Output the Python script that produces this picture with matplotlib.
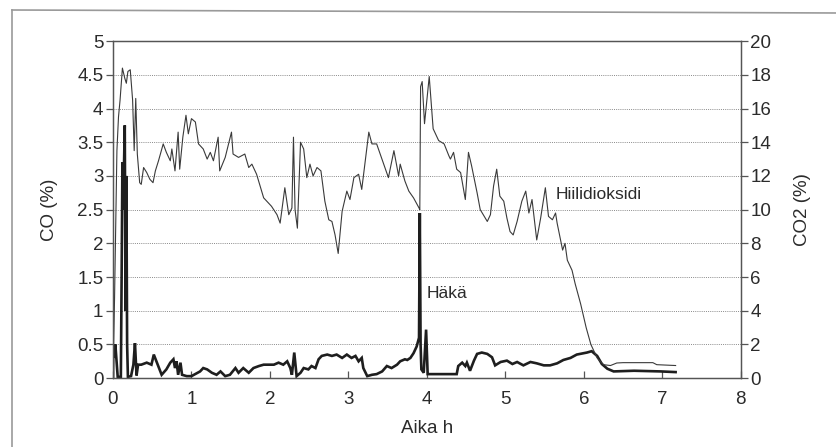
import matplotlib.pyplot as plt
from matplotlib.lines import Line2D

plt.rcParams['font.family'] = ['Liberation Sans', 'DejaVu Sans']

# CO2 (right axis), thin line
co2_t = [0.00, 0.02, 0.05, 0.07, 0.09, 0.12, 0.15, 0.17, 0.19, 0.22, 0.25, 0.27, 0.29, 0.31,
         0.34, 0.36, 0.39, 0.43, 0.47, 0.51, 0.54, 0.58, 0.64, 0.68, 0.73, 0.75, 0.79, 0.83,
         0.85, 0.89, 0.93, 0.96, 1.00, 1.05, 1.09, 1.15, 1.20, 1.24, 1.28, 1.34, 1.36, 1.43,
         1.51, 1.53, 1.60, 1.68, 1.73, 1.77, 1.83, 1.92, 1.96, 2.02, 2.09, 2.13, 2.19, 2.24,
         2.28, 2.30, 2.32, 2.35, 2.39, 2.43, 2.47, 2.51, 2.55, 2.60, 2.65, 2.70, 2.75, 2.79,
         2.83, 2.87, 2.92, 2.98, 3.02, 3.07, 3.13, 3.17, 3.26, 3.30, 3.36, 3.45, 3.51, 3.58,
         3.64, 3.66, 3.72, 3.77, 3.83, 3.90, 3.91, 3.92, 3.94, 3.97, 4.00, 4.03, 4.08, 4.15,
         4.22, 4.28, 4.30, 4.34, 4.38, 4.43, 4.49, 4.53, 4.57, 4.64, 4.68, 4.77, 4.81, 4.85,
         4.89, 4.93, 4.98, 5.02, 5.06, 5.10, 5.15, 5.21, 5.26, 5.30, 5.34, 5.40, 5.45, 5.51,
         5.55, 5.60, 5.64, 5.66, 5.73, 5.76, 5.79, 5.85, 5.89, 5.96, 6.03, 6.09, 6.17, 6.25,
         6.34, 6.42, 6.50, 6.88, 6.93, 7.17]
co2_v = [0.0, 4.8, 13.5, 15.5, 16.5, 18.4, 17.8, 17.5, 18.2, 18.3, 16.5, 13.5, 16.6, 13.3,
         11.6, 11.5, 12.5, 12.2, 11.8, 11.6, 12.3, 12.9, 13.9, 13.4, 12.9, 13.6, 12.3, 14.6,
         12.4, 14.3, 15.6, 14.5, 15.4, 15.2, 13.9, 13.6, 13.0, 13.4, 12.9, 14.3, 12.3, 13.1,
         14.6, 13.3, 13.1, 13.3, 12.5, 12.7, 12.1, 10.7, 10.5, 10.2, 9.7, 9.2, 11.3, 9.7,
         10.1, 14.3, 10.0, 8.9, 14.0, 13.6, 11.9, 12.7, 12.0, 12.5, 12.3, 10.5, 9.4, 9.3,
         8.5, 7.4, 9.9, 11.1, 10.6, 11.9, 12.1, 11.2, 14.6, 13.9, 13.9, 12.7, 11.9, 13.5,
         12.0, 12.7, 11.7, 11.1, 10.7, 10.1, 10.0, 17.3, 17.6, 15.1, 16.5, 17.9, 14.8, 14.1,
         13.9, 13.2, 13.0, 13.4, 12.4, 12.2, 10.6, 13.4, 12.6, 11.0, 10.0, 9.3, 9.7, 11.4,
         12.4, 10.8, 10.5, 9.5, 8.7, 8.5, 9.3, 10.5, 11.1, 9.8, 10.6, 8.2, 9.5, 11.3,
         9.6, 9.4, 9.8, 9.2, 7.6, 8.0, 7.0, 6.4, 5.6, 4.4, 3.0, 2.0, 1.2, 0.8,
         0.75, 0.9, 0.92, 0.92, 0.8, 0.75]

# CO (left axis), thick line
co_t = [0.00, 0.005, 0.02, 0.03, 0.045, 0.06, 0.10, 0.11, 0.12, 0.13, 0.15, 0.16, 0.17, 0.18,
        0.19, 0.23, 0.26, 0.28, 0.30, 0.32, 0.36, 0.43, 0.49, 0.52, 0.56, 0.62, 0.68, 0.73,
        0.77, 0.79, 0.81, 0.83, 0.86, 0.88, 0.94, 1.00, 1.11, 1.15, 1.20, 1.26, 1.32, 1.37,
        1.43, 1.49, 1.56, 1.60, 1.66, 1.73, 1.79, 1.86, 1.92, 1.98, 2.05, 2.11, 2.17, 2.22,
        2.26, 2.28, 2.31, 2.34, 2.39, 2.43, 2.49, 2.53, 2.58, 2.62, 2.66, 2.73, 2.79, 2.85,
        2.92, 2.98, 3.04, 3.09, 3.13, 3.17, 3.19, 3.24, 3.30, 3.36, 3.43, 3.49, 3.55, 3.62,
        3.66, 3.72, 3.75, 3.79, 3.83, 3.87, 3.90, 3.91, 3.92, 3.93, 3.96, 3.99, 4.01, 4.38,
        4.40, 4.45, 4.49, 4.51, 4.55, 4.60, 4.64, 4.70, 4.77, 4.83, 4.87, 4.94, 5.02, 5.09,
        5.15, 5.23, 5.32, 5.40, 5.49, 5.57, 5.66, 5.74, 5.83, 5.91, 6.04, 6.10, 6.17, 6.23,
        6.30, 6.38, 6.64, 6.98, 7.17]
co_v = [0.00, 0.50, 0.30, 0.50, 0.25, 0.02, 0.02, 1.50, 3.20, 2.50, 3.75, 1.00, 3.00, 0.50,
        0.02, 0.03, 0.20, 0.52, 0.04, 0.20, 0.20, 0.23, 0.20, 0.35, 0.23, 0.05, 0.13, 0.23,
        0.28, 0.15, 0.25, 0.05, 0.23, 0.05, 0.03, 0.03, 0.10, 0.15, 0.13, 0.08, 0.05, 0.10,
        0.03, 0.05, 0.15, 0.08, 0.15, 0.08, 0.15, 0.18, 0.20, 0.20, 0.20, 0.23, 0.20, 0.25,
        0.15, 0.05, 0.38, 0.03, 0.08, 0.15, 0.13, 0.18, 0.15, 0.28, 0.33, 0.35, 0.33, 0.35,
        0.30, 0.35, 0.30, 0.33, 0.25, 0.30, 0.15, 0.03, 0.05, 0.06, 0.10, 0.18, 0.15, 0.20,
        0.25, 0.28, 0.27, 0.30, 0.37, 0.47, 0.60, 2.45, 0.50, 0.13, 0.08, 0.72, 0.06, 0.06,
        0.18, 0.23, 0.18, 0.23, 0.11, 0.26, 0.36, 0.38, 0.36, 0.31, 0.19, 0.24, 0.26, 0.21,
        0.24, 0.19, 0.24, 0.22, 0.19, 0.19, 0.22, 0.27, 0.30, 0.35, 0.38, 0.40, 0.33, 0.21,
        0.14, 0.10, 0.11, 0.10, 0.09]

left_ticks = [0, 0.5, 1, 1.5, 2, 2.5, 3, 3.5, 4, 4.5, 5]
left_labels = ['0', '0.5', '1', '1.5', '2', '2.5', '3', '3.5', '4', '4.5', '5']
right_ticks = [0, 2, 4, 6, 8, 10, 12, 14, 16, 18, 20]
x_ticks = [0, 1, 2, 3, 4, 5, 6, 7, 8]

ink = '#2b2b2b'
axis_col = '#555555'

fig = plt.figure(figsize=(8.37, 4.47), dpi=100)
ax = fig.add_axes([0.135, 0.154, 0.750, 0.754])
ax2 = ax.twinx()

ax.plot(co_t, co_v, color='#1e1e1e', lw=1.9, solid_joinstyle='miter')
ax2.plot(co2_t, co2_v, color='#3a3a3a', lw=0.8)

ax.set_xlim(0, 8)
ax.set_ylim(0, 5)
ax2.set_ylim(0, 20)

ax.set_xticks(x_ticks)
ax.set_yticks(left_ticks)
ax.set_yticklabels(left_labels)
ax2.set_yticks(right_ticks)

for a in (ax, ax2):
    for s in a.spines.values():
        s.set_color(axis_col)
        s.set_linewidth(0.9)

ax.yaxis.grid(True, color='#8a8a8a', linestyle=(0, (1, 1.2)), linewidth=0.7)
ax.set_axisbelow(True)

ax.tick_params(axis='y', direction='out', length=5, width=0.9, color=axis_col,
               labelsize=13.5, labelcolor=ink, pad=2)
ax.tick_params(axis='x', direction='in', length=5, width=0.9, color=axis_col,
               labelsize=13.5, labelcolor=ink, pad=9)
ax2.tick_params(axis='y', direction='out', length=5, width=0.9, color=axis_col,
                labelsize=13.5, labelcolor=ink, pad=2)

ax.set_xlabel('Aika h', fontsize=13.5, color=ink, labelpad=9)
ax.set_ylabel('CO (%)', fontsize=13.5, color=ink, labelpad=14)
ax2.set_ylabel('CO2 (%)', fontsize=13.5, color=ink, labelpad=16)

ax2.text(5.64, 10.9, 'Hiilidioksidi', fontsize=12.5, color=ink, ha='left', va='center')
ax.text(4.0, 1.25, 'Häkä', fontsize=12.5, color=ink, ha='left', va='center')

# outer frame of the figure box
fig.add_artist(Line2D([12 / 837, 12 / 837], [0, 1 - 10 / 447], transform=fig.transFigure,
                      color='#9a9a9a', lw=1.2))
fig.add_artist(Line2D([12 / 837, 1], [1 - 10 / 447, 1 - 13 / 447], transform=fig.transFigure,
                      color='#9a9a9a', lw=1.2))

fig.savefig('out.png', dpi=100)
